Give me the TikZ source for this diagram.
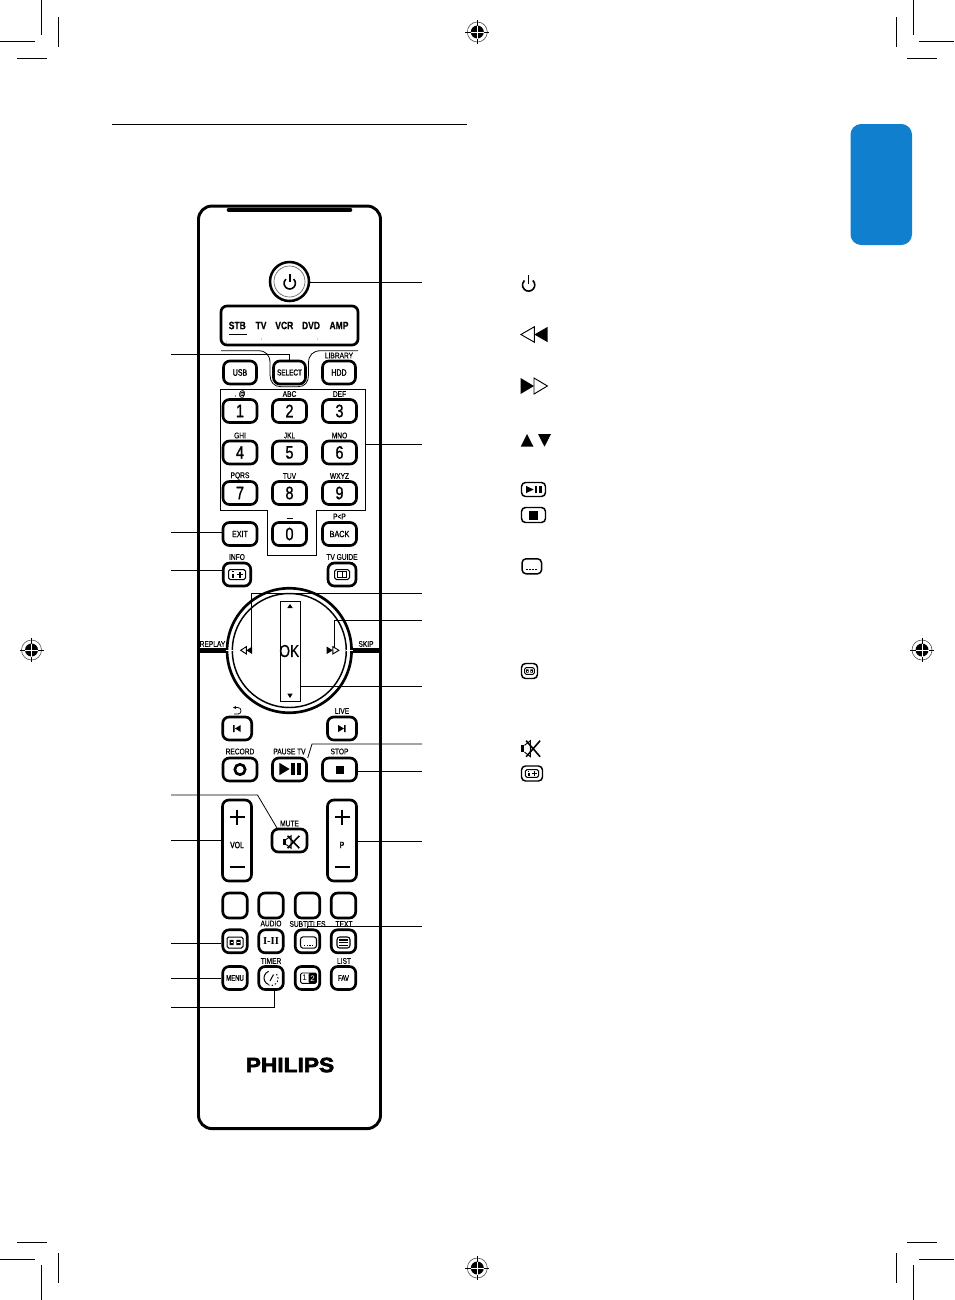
\documentclass[tikz,border=0pt]{standalone}
\usetikzlibrary{arrows.meta}
\usepackage{fontspec}
\setmainfont{Liberation Sans}
\newfontfamily\nar[FakeStretch=0.8,FakeBold=0.4]{Liberation Sans}
\newfontfamily\nard[FakeStretch=0.8,FakeBold=1.2]{Liberation Sans}
\newfontfamily\narb[FakeStretch=0.75,FakeBold=1.6]{Liberation Sans}
\newfontfamily\logofont[FakeStretch=1.1,FakeBold=3]{Liberation Sans}
\newfontfamily\serifb{Liberation Serif}
\definecolor{tabblue}{HTML}{0F7FCE}
\tikzset{
 btn/.style={draw=black,line width=2pt,rounded corners=4.8pt,fill=white,inner sep=0pt,minimum width=#1*0.75pt,minimum height=17.25pt},
 btn/.default=34,
 tall/.style={minimum height=#1*0.75pt},
 lbl/.style={inner sep=0pt,font=\nar\fontsize{6.2}{6.2}\selectfont},
 digit/.style={font=\nard\fontsize{13.5}{13.5}\selectfont},
 devlbl/.style={inner sep=0pt,font=\nar\bfseries\fontsize{8}{8}\selectfont},
 leader/.style={draw=black,line width=0.6pt},
 crop/.style={draw=black,line width=0.55pt},
 ink/.style={draw=black,line width=1.2pt},
 thin ink/.style={draw=black,line width=0.7pt},
 icon/.style={draw=black,line width=1.1pt,rounded corners=3pt,inner sep=0pt,minimum width=#1*0.75pt,minimum height=15*0.75pt},
 pics/powerglyph/.style={code={
   \draw[line width=1.2pt] (3.9,-4.2) arc[start angle=-47,end angle=227,radius=5.7];
   \draw[line width=1.2pt] (0,-9) -- (0,-1);
 }},
 pics/rwd/.style={code={
   \draw[thin ink,fill=white] (0,-1) -- (0,1) -- (-1,0) -- cycle;
   \fill[black] (1,-1) -- (1,1) -- (0,0) -- cycle;
 }},
 pics/ffd/.style={code={
   \fill[black] (-1,-1) -- (-1,1) -- (0,0) -- cycle;
   \draw[thin ink,fill=white] (0,-1) -- (0,1) -- (1,0) -- cycle;
 }},
 pics/playpause/.style={code={
   \fill[black] (-1,-1) -- (-1,1) -- (0.2,0) -- cycle;
   \fill[black] (0.4,-1) rectangle (0.78,1);
   \fill[black] (1.1,-1) rectangle (1.5,1);
 }},
 pics/muteg/.style={code={
   \fill[black] (-1.05,-0.42) rectangle (-0.68,0.42);
   \draw[thin ink] (-0.68,-0.42) -- (-0.05,-1) -- (-0.05,1) -- (-0.68,0.42);
   \draw[ink] (-0.5,-1) -- (1,1) (-0.5,1) -- (1,-1);
 }},
 pics/infog/.style={code={
   \draw[line width=0.75pt,rounded corners=1.2pt] (-8.5,-5) rectangle (8.5,5);
   \draw[line width=0.95pt] (-4,-1) -- (-4,3);
   \fill[black] (-4.6,-3.4) rectangle (-3.4,-2.2);
   \draw[line width=0.95pt] (3,-3) -- (3,3) (0,0) -- (6,0);
 }},
 pics/bookg/.style={code={
   \draw[line width=0.75pt,rounded corners=1.4pt] (-7.5,-5) rectangle (7.5,5);
   \draw[line width=0.5pt] (-4.5,-3) rectangle (0,3) (0,-3) rectangle (4.5,3);
 }},
 pics/aspectg/.style={code={
   \draw[line width=0.75pt,rounded corners=1.2pt] (-8,-5.5) rectangle (8,5.5);
   \fill[black] (-5.5,-2.6) rectangle (-1.4,2.6) (1.4,-2.6) rectangle (5.5,2.6);
   \draw[line width=0.35pt,white] (-4.5,0) -- (-2,0) (2,0) -- (4.5,0);
 }},
 pics/subg/.style={code={
   \draw[line width=0.8pt,rounded corners=2pt] (-8,-5.7) rectangle (8,5.7);
   \foreach \dx in {-4.2,-1.4,1.4,4.2}{\fill[black] (\dx-0.6,2.2) rectangle (\dx+0.6,3.4);}
 }},
 pics/textg/.style={code={
   \draw[line width=0.8pt,rounded corners=2pt] (-6.5,-5.5) rectangle (6.5,5.5);
   \foreach \dy in {-2.6,0,2.6}{\draw[line width=0.9pt] (-4.3,\dy) -- (4.3,\dy);}
 }},
 pics/regmark/.style={code={
   \draw[line width=0.45pt,black!70] (0,0) circle[radius=10];
   \fill[black] (0,0) circle[radius=6.5];
   \draw[line width=0.7pt,black] (-12,0) -- (-6.5,0) (6.5,0) -- (12,0) (0,-12) -- (0,-6.5) (0,6.5) -- (0,12);
   \draw[line width=0.7pt,white] (-6.5,0) -- (6.5,0) (0,-6.5) -- (0,6.5);
 }},
}
\begin{document}
\begin{tikzpicture}[x=0.75pt,y=-0.75pt]
\useasboundingbox (0,0) rectangle (954,1300);
% crop marks
\foreach \a/\b/\c/\d in {41/0/41/35,0/41/35/41,58/17/58/47,17/58/47/58,
 913/0/913/35,919/41/954/41,896/17/896/47,907/58/937/58,
 41/1265/41/1300,0/1259/35/1259,58/1253/58/1283,17/1242/47/1242,
 913/1265/913/1300,919/1259/954/1259,896/1253/896/1283,907/1242/937/1242}{
 \draw[crop] (\a,\b) -- (\c,\d);}
\pic at (477.3,32) {regmark};
\pic at (31.5,650) {regmark};
\pic at (922,650) {regmark};
\pic at (477.3,1268) {regmark};
% header + tab
\draw[line width=0.5pt] (112,124.5) -- (467,124.5);
\fill[tabblue,rounded corners=8pt] (850.5,124) rectangle (912,245);
% remote body
\node[draw=black,line width=2.2pt,rounded corners=10pt,minimum width=182*0.75pt,minimum height=922.5*0.75pt,inner sep=0pt] (body) at (289.5,667.3) {};
\draw[line width=2.7pt,line cap=round] (228.5,209.7) -- (350.5,209.7);
% power
\node[circle,draw=black,line width=1.9pt,minimum size=39*0.75pt,inner sep=0pt] (power) at (289.5,281.5) {};
\node[circle,draw=black!60,line width=0.5pt,minimum size=31*0.75pt,inner sep=0pt] (powerin) at (289.5,281.5) {};
\pic at (289.7,283.3) {powerglyph};
% device panel
\node[draw=black,line width=2pt,rounded corners=4.5pt,minimum width=137*0.75pt,minimum height=39*0.75pt,inner sep=0pt] (panel) at (289.5,325.5) {};
\node[devlbl] (dstb) at (237.3,325.5) {STB};
\node[devlbl] (dtv) at (261,325.5) {TV};
\node[devlbl] (dvcr) at (284.3,325.5) {VCR};
\node[devlbl] (ddvd) at (311,325.5) {DVD};
\node[devlbl] (damp) at (339,325.5) {AMP};
\draw[line width=1pt] (229,334.5) -- (247,334.5);
\fill[black!60] (261.7,339) circle[radius=0.5] (317.3,339) circle[radius=0.5] (226.7,342) circle[radius=0.5];
% select surround
\draw[line width=0.6pt] (221,350.7) -- (258,350.7) .. controls (266,350.7) and (270,355) .. (270,363) -- (270,375) .. controls (270,382) and (274,386.7) .. (281,386.7) -- (298,386.7) .. controls (305,386.7) and (308.5,382) .. (308.5,375) -- (308.5,363) .. controls (308.5,355) and (313,350.7) .. (321,350.7) -- (358,350.7);
% top row
\node[btn=33] (usb) at (240,372.5) {\narb\fontsize{7}{7}\selectfont USB};
\node[btn=32] (select) at (289.5,372.5) {\narb\fontsize{6.4}{6.4}\selectfont SELECT};
\node[btn=33] (hdd) at (339,372.5) {\narb\fontsize{7}{7}\selectfont HDD};
\node[lbl] (llib) at (339,355.5) {LIBRARY};
% keypad surround
\draw[line width=0.6pt] (220.5,389.7) -- (365.3,389.7) -- (365.3,510.3) -- (316,510.3) -- (316,555.3) -- (267.3,555.3) -- (267.3,510.3) -- (220.5,510.3) -- cycle;
\coordinate (padr) at (365.3,444.5);
% keypad
\foreach \n/\t/\cx/\cy/\lt in {k1/1/240/411/{. @},k2/2/289.5/411/ABC,k3/3/339.5/411/DEF,
 k4/4/240/452.5/GHI,k5/5/289.5/452.5/JKL,k6/6/339.5/452.5/MNO,
 k7/7/240/493/PQRS,k8/8/289.5/493/TUV,k9/9/339.5/493/WXYZ}{
 \node[btn=34,digit] (\n) at (\cx,\cy) {\t};
 \node[lbl] (l\n) at (\cx,\cy-17) {\lt};
}
\node[btn=34,digit] (k0) at (289.5,534) {0};
\draw[line width=0.6pt] (286.5,518) -- (293,518);
\node[btn=34] (exit) at (240,534) {\nar\fontsize{6.6}{6.6}\selectfont EXIT};
\node[btn=34] (back) at (339.5,534) {\nard\fontsize{6.8}{6.8}\selectfont BACK};
\node[lbl] (lpp) at (339.5,516.5) {P<P};
\node[btn=27.5] (info) at (237,574.5) {};
\pic at (237,574.5) {infog};
\node[lbl] (linfo) at (237,557) {INFO};
\node[btn=28] (guide) at (342,574.5) {};
\pic at (342,574.5) {bookg};
\node[lbl] (lguide) at (342,557) {TV GUIDE};
% ring
\draw[line width=3.6pt] (198,650.3) -- (226,650.3);
\draw[line width=3.6pt] (352,650.3) -- (381,650.3);
\node[circle,draw=black,line width=2pt,minimum size=124.5*0.75pt,inner sep=0pt] (ring) at (289.3,650.5) {};
\node[circle,draw=black,line width=1.1pt,minimum size=114*0.75pt,inner sep=0pt] (ringin) at (289.3,650.5) {};
\draw[white,line width=0.8pt] (225.5,650.3) -- (233,650.3) (345.5,650.3) -- (353,650.3);
\node[lbl] (lreplay) at (212.5,644) {REPLAY};
\node[lbl] (lskip) at (366,644) {SKIP};
\node[draw=black,line width=0.6pt,inner sep=0pt,minimum width=20.4*0.75pt,minimum height=100*0.75pt] (okbox) at (290.5,651.7) {};
\node[inner sep=0pt,font=\nar\fontsize{13}{13}\selectfont] (ok) at (289.3,651) {OK};
\fill[black] (290,604) -- (292.7,608) -- (287.3,608) -- cycle;
\fill[black] (290,698) -- (292.7,693.5) -- (287.3,693.5) -- cycle;
\pic[xscale=5.7,yscale=3.7] at (246.4,650.3) {rwd};
\pic[xscale=6.1,yscale=3.7] at (332.8,650.3) {ffd};
% transport
\node[btn=29] (prev) at (237.2,728.5) {};
\fill[black] (233,725) rectangle (234.6,732) (240.7,725) -- (240.7,732) -- (235,728.5) -- cycle;
\node[btn=29] (next) at (342,728.5) {};
\fill[black] (344,725) rectangle (345.7,732) (338.2,725) -- (338.2,732) -- (344,728.5) -- cycle;
\draw[line width=0.55pt,-{Stealth[length=2.5pt,width=2.5pt]}] (234,714) -- (238,714) .. controls (242,714) and (242,707.5) .. (238,707.5) -- (233,707.5);
\node[lbl] (llive) at (342,711) {LIVE};
\node[btn=34] (record) at (240,769.5) {};
\draw[line width=2pt] (240,769.5) circle[radius=5.2];
\node[btn=34] (pause) at (289.5,769.5) {};
\pic[xscale=8.56,yscale=6.2] at (287.9,769) {playpause};
\node[btn=34] (stop) at (339.5,769.5) {};
\fill[black] (335.5,765.5) rectangle (344.3,773.5);
\node[lbl] (lrec) at (240,751.5) {RECORD};
\node[lbl] (lpause) at (289.5,751.5) {PAUSE TV};
\node[lbl] (lstop) at (339.5,751.5) {STOP};
% mute vol p
\node[btn=35] (mute) at (289.5,840.5) {};
\pic[xscale=7.8,yscale=6.2] at (291.5,842) {muteg};
\node[lbl] (lmute) at (289.5,823.5) {MUTE};
\node[btn=29,tall=81] (vol) at (237,840.5) {};
\node[btn=29,tall=81] (prog) at (342,840.5) {};
\foreach \nm/\x/\s in {vol/237/VOL,prog/342/P}{
 \draw[line width=1.1pt] (\x-7.5,817) -- (\x+7.5,817) (\x,809.5) -- (\x,824.5) (\x-7.5,867) -- (\x+7.5,867);
 \node[inner sep=0pt,font=\narb\fontsize{6.8}{6.8}\selectfont] (t\nm) at (\x,845) {\s};
}
% colour row
\foreach \n/\x in {c1/235,c2/271,c3/307.5,c4/343.5}{\node[btn=24.5,tall=25] (\n) at (\x,905.5) {};}
% row 2
\node[btn=24.5] (aspect) at (235,941.3) {};
\pic at (235,942.5) {aspectg};
\node[btn=24.5] (audio) at (271,941.3) {\serifb\bfseries\fontsize{8}{8}\selectfont I-II};
\node[btn=24.5] (subt) at (307.5,941.3) {};
\pic at (308.5,942.5) {subg};
\node[btn=24.5] (textb) at (343.5,941.3) {};
\pic at (343.5,942.5) {textg};
\node[lbl] (laud) at (271,923.5) {AUDIO};
\node[lbl] (lsub) at (307.5,924) {SUBTITLES};
\node[lbl] (ltxt) at (344,924) {TEXT};
% row 3
\node[btn=24.5] (menu) at (235,978) {\narb\fontsize{6}{6}\selectfont MENU};
\node[btn=24.5] (timer) at (271,978) {};
\draw[line width=0.75pt,dash pattern=on 1.1pt off 1.5pt] (276.5,974) arc[start angle=-40,end angle=110,radius=7];
\draw[line width=0.75pt] (268.6,984.5) arc[start angle=110,end angle=250,radius=7];
\draw[line width=0.75pt] (270,981) -- (273.5,974.5);
\node[btn=24.5] (dual) at (307.5,978) {};
\draw[line width=0.7pt,rounded corners=1pt] (300.7,973) rectangle (316.5,983.3);
\fill[black,rounded corners=1pt] (308.5,973) rectangle (316.5,983.3);
\node[inner sep=0pt,font=\fontsize{6}{6}\selectfont] (d1) at (304.6,978.2) {1};
\node[inner sep=0pt,text=white,font=\fontsize{6}{6}\selectfont] (d2) at (312.5,978.2) {2};
\node[btn=24.5] (fav) at (343.5,978) {\narb\fontsize{6}{6}\selectfont FAV};
\node[lbl] (ltim) at (271,961) {TIMER};
\node[lbl] (llist) at (344,961) {LIST};
% logo
\node[inner sep=0pt,font=\logofont\bfseries\fontsize{15.5}{15.5}\selectfont] (logo) at (290,1065) {PHILIPS};
% leaders
\coordinate (a1) at (171,354);
\coordinate (a2) at (171,532);
\coordinate (a3) at (171,570);
\coordinate (a4) at (171,795);
\coordinate (a4b) at (257.5,795);
\coordinate (a4c) at (277,828);
\coordinate (a5) at (171,840);
\coordinate (a6) at (171,943);
\coordinate (a7) at (171,978);
\coordinate (a8) at (171,1007);
\coordinate (a8c) at (274.5,990);
\coordinate (b1) at (422,282.5);
\coordinate (b2) at (422,444.5);
\coordinate (b3) at (422,593);
\coordinate (b3c) at (251,647);
\coordinate (b4) at (422,620);
\coordinate (b4c) at (334.5,647);
\coordinate (b5) at (422,686);
\coordinate (b6) at (422,744);
\coordinate (b6b) at (312,744);
\coordinate (b6c) at (307.7,758);
\coordinate (b7) at (422,771);
\coordinate (b8) at (422,841.5);
\coordinate (b9) at (422,926.5);
\draw[leader] (a1) -| (select.north);
\draw[leader] (a2) -- (a2 -| exit.west);
\draw[leader] (a3) -- (a3 -| info.west);
\draw[leader] (a4) -- (a4b) -- (a4c);
\draw[leader] (a5) -- (a5 -| vol.west);
\draw[leader] (a6) -- (a6 -| aspect.west);
\draw[leader] (a7) -- (a7 -| menu.west);
\draw[leader] (a8) -| (a8c);
\draw[leader] (b1) -- (b1 -| power.east);
\draw[leader] (b2) -- (padr);
\draw[leader] (b3) -| (b3c);
\draw[leader] (b4) -| (b4c);
\draw[leader] (b5) -- (b5 -| okbox.east);
\draw[leader] (b6) -- (b6b) -- (b6c);
\draw[leader] (b7) -- (b7 -| stop.east);
\draw[leader] (b8) -- (b8 -| prog.east);
\draw[leader] (b9) -| (subt.north);
% legend icons
\pic[scale=1.08] at (528.6,285) {powerglyph};
\pic[xscale=13.4,yscale=7.7] at (534.3,334.5) {rwd};
\pic[xscale=13.4,yscale=8] at (534,386) {ffd};
\fill[black] (527,434) -- (533.5,446.7) -- (520.7,446.7) -- cycle;
\fill[black] (544.5,446.7) -- (551,434) -- (538,434) -- cycle;
\node[icon=24,minimum height=14*0.75pt] (ipp) at (533.5,489.5) {};
\pic[xscale=6.3,yscale=3.7] at (532.3,489.5) {playpause};
\node[icon=24] (ist) at (533.5,515) {};
\fill[black] (529,510.7) rectangle (538,519.5);
\node[icon=19.5] (isub) at (531.8,566.3) {};
\foreach \dx in {-5,-2,1,4}{\fill[black] (531.8+\dx-0.7,568.8) rectangle (531.8+\dx+0.7,570.2);}
\node[icon=16] (iasp) at (529.5,671) {};
\pic[scale=0.62] at (529.5,671) {aspectg};
\pic[xscale=9.3,yscale=8] at (530.8,748.7) {muteg};
\node[icon=21] (iinf) at (532,773.5) {};
\pic[scale=0.78] at (532,773.5) {infog};
\end{tikzpicture}
\end{document}
